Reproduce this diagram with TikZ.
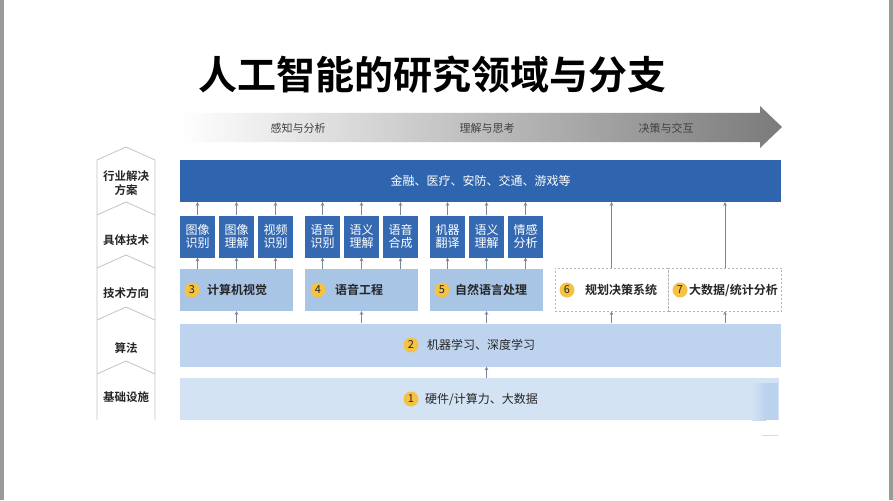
\documentclass[tikz,border=0pt]{standalone}
\usepackage{fontspec}
\setmainfont{Noto Sans CJK SC}
\newfontfamily\cjkb{Noto Sans CJK SC Bold}
\usetikzlibrary{arrows.meta}
\definecolor{topblue}{HTML}{2F65AF}
\definecolor{smallblue}{HTML}{3569B2}
\definecolor{techblue}{HTML}{A8C5E6}
\definecolor{algblue}{HTML}{BED4EE}
\definecolor{infblue}{HTML}{D4E3F4}
\definecolor{numyel}{HTML}{F5C244}
\definecolor{arrgray}{HTML}{7A8796}
\definecolor{colline}{HTML}{C4C4C4}
\definecolor{edgegray}{HTML}{9A9A9A}
\definecolor{dashgray}{HTML}{B4B4B4}
\definecolor{txtdark}{HTML}{262626}
\tikzset{
  sbox/.style={fill=smallblue, draw=none, minimum width=35pt, minimum height=42pt, inner sep=0pt,
    text=white, align=center, font=\fontsize{12}{13.5}\selectfont},
  tbox/.style={fill=techblue, draw=none, minimum width=113pt, minimum height=42pt, inner sep=0pt},
  dbox/.style={fill=white, draw=dashgray, dash pattern=on 2pt off 2pt, line width=0.7pt,
    minimum width=113pt, minimum height=43pt, inner sep=0pt},
  numc/.style={circle, fill=numyel, minimum size=15pt, inner sep=0pt, text=txtdark,
    font=\fontsize{11}{11}\selectfont},
  tlabel/.style={anchor=west, inner sep=0pt, text=txtdark, font=\cjkb\fontsize{12}{12}\selectfont},
  llabel/.style={inner sep=0pt, text=txtdark, align=center, font=\cjkb\fontsize{11.5}{14.5}\selectfont},
  glabel/.style={inner sep=0pt, text=black!75, font=\fontsize{11}{11}\selectfont},
  arr/.style={draw=arrgray, line width=0.7pt, -{Stealth[length=3.6pt,width=3.6pt]}},
  cline/.style={draw=colline, line width=0.8pt},
}
\begin{document}
\begin{tikzpicture}[x=1pt,y=-1pt]
\useasboundingbox (0,0) rectangle (893,500);
\fill[white] (0,0) rectangle (893,500);
\fill[edgegray] (0,0) rectangle (4,500);
\fill[edgegray] (889,0) rectangle (893,500);

% title
\node[inner sep=0pt, font=\cjkb\fontsize{39}{39}\selectfont] (title) at (432.5,75) {人工智能的研究领域与分支};

% gradient arrow
\shade[left color=white, right color=black!52]
  (180,113) -- (760,113) -- (760,106) -- (782,127) -- (760,148) -- (760,142) -- (180,142) -- cycle;
\node[glabel] (g1) at (298,128) {感知与分析};
\node[glabel] (g2) at (487,128) {理解与思考};
\node[glabel] (g3) at (666,128) {决策与交互};

% left column
\draw[cline] (97,420) -- (97,160) -- (126,147) -- (155,160) -- (155,420);
\draw[cline] (97,215) -- (126,202) -- (155,215);
\draw[cline] (97,268) -- (126,255) -- (155,268);
\draw[cline] (97,320) -- (126,307) -- (155,320);
\draw[cline] (97,374) -- (126,361) -- (155,374);
\node[llabel] (l1) at (126,183) {行业解决\\方案};
\node[llabel] (l2) at (126,240) {具体技术};
\node[llabel] (l3) at (126,293) {技术方向};
\node[llabel] (l4) at (126,348) {算法};
\node[llabel] (l5) at (126,397) {基础设施};

% top bar
\node[fill=topblue, minimum width=601pt, minimum height=42pt, inner sep=0pt, text=white,
  font=\fontsize{12}{12}\selectfont] (top) at (480.5,181) {金融、医疗、安防、交通、游戏等};

% small boxes
\node[sbox] (s1) at (197.5,236.5) {图像\\识别};
\node[sbox] (s2) at (236.5,236.5) {图像\\理解};
\node[sbox] (s3) at (275.5,236.5) {视频\\识别};
\node[sbox] (s4) at (322.5,236.5) {语音\\识别};
\node[sbox] (s5) at (361.5,236.5) {语义\\理解};
\node[sbox] (s6) at (400.5,236.5) {语音\\合成};
\node[sbox] (s7) at (447.5,236.5) {机器\\翻译};
\node[sbox] (s8) at (486.5,236.5) {语义\\理解};
\node[sbox] (s9) at (525.5,236.5) {情感\\分析};

% tech direction boxes
\node[tbox] (t3) at (236.5,290) {};
\node[tbox] (t4) at (361.5,290) {};
\node[tbox] (t5) at (486.5,290) {};
\node[dbox] (t6) at (611.5,289.5) {};
\node[dbox] (t7) at (725,289.5) {};
\node[numc] (n3) at (192,290) {3};
\node[tlabel] (x3) at (207,290) {计算机视觉};
\node[numc] (n4) at (318,290) {4};
\node[tlabel] (x4) at (335,290) {语音工程};
\node[numc] (n5) at (442,290) {5};
\node[tlabel] (x5) at (455,290) {自然语言处理};
\node[numc] (n6) at (567,290) {6};
\node[tlabel] (x6) at (585,290) {规划决策系统};
\node[numc] (n7) at (680,290) {7};
\node[tlabel] (x7) at (689,290) {大数据/统计分析};

% algorithm bar
\node[fill=algblue, minimum width=601pt, minimum height=43pt, inner sep=0pt] (alg) at (480.5,345) {};
\node[numc] (n2) at (411,345) {2};
\node[tlabel, font=\fontsize{12}{12}\selectfont] (x2) at (427,345) {机器学习、深度学习};

% infrastructure bar
\node[fill=infblue, minimum width=599pt, minimum height=42pt, inner sep=0pt] (inf) at (479.5,399) {};
\shade[left color=infblue, right color=algblue!85!techblue] (752,383) rectangle (766,420);
\fill[algblue!85!techblue] (766,383) rectangle (778,420);
\draw[black!15, line width=1pt] (762,435) -- (778,435);
\node[numc] (n1) at (411,399) {1};
\node[tlabel, font=\fontsize{12}{12}\selectfont] (x1) at (425,399) {硬件/计算力、大数据};

% arrows: small boxes -> top bar
\foreach \s in {s1,s2,s3,s4,s5,s6,s7,s8,s9}{
  \draw[arr] (\s.north) -- (\s.north |- top.south);
}
% tech boxes -> small boxes
\foreach \s/\t in {s1/t3,s2/t3,s3/t3,s4/t4,s5/t4,s6/t4,s7/t5,s8/t5,s9/t5}{
  \draw[arr] (\s.south |- \t.north) -- (\s.south);
}
% dashed boxes -> top bar
\draw[arr] (t6.north) -- (t6.north |- top.south);
\draw[arr] (t7.north) -- (t7.north |- top.south);
% algorithm -> tech boxes
\foreach \t in {t3,t4,t5,t6,t7}{
  \draw[arr] (\t.south |- alg.north) -- (\t.south);
}
% infrastructure -> algorithm
\draw[arr] (t5.south |- inf.north) -- (t5.south |- alg.south);
\end{tikzpicture}
\end{document}
